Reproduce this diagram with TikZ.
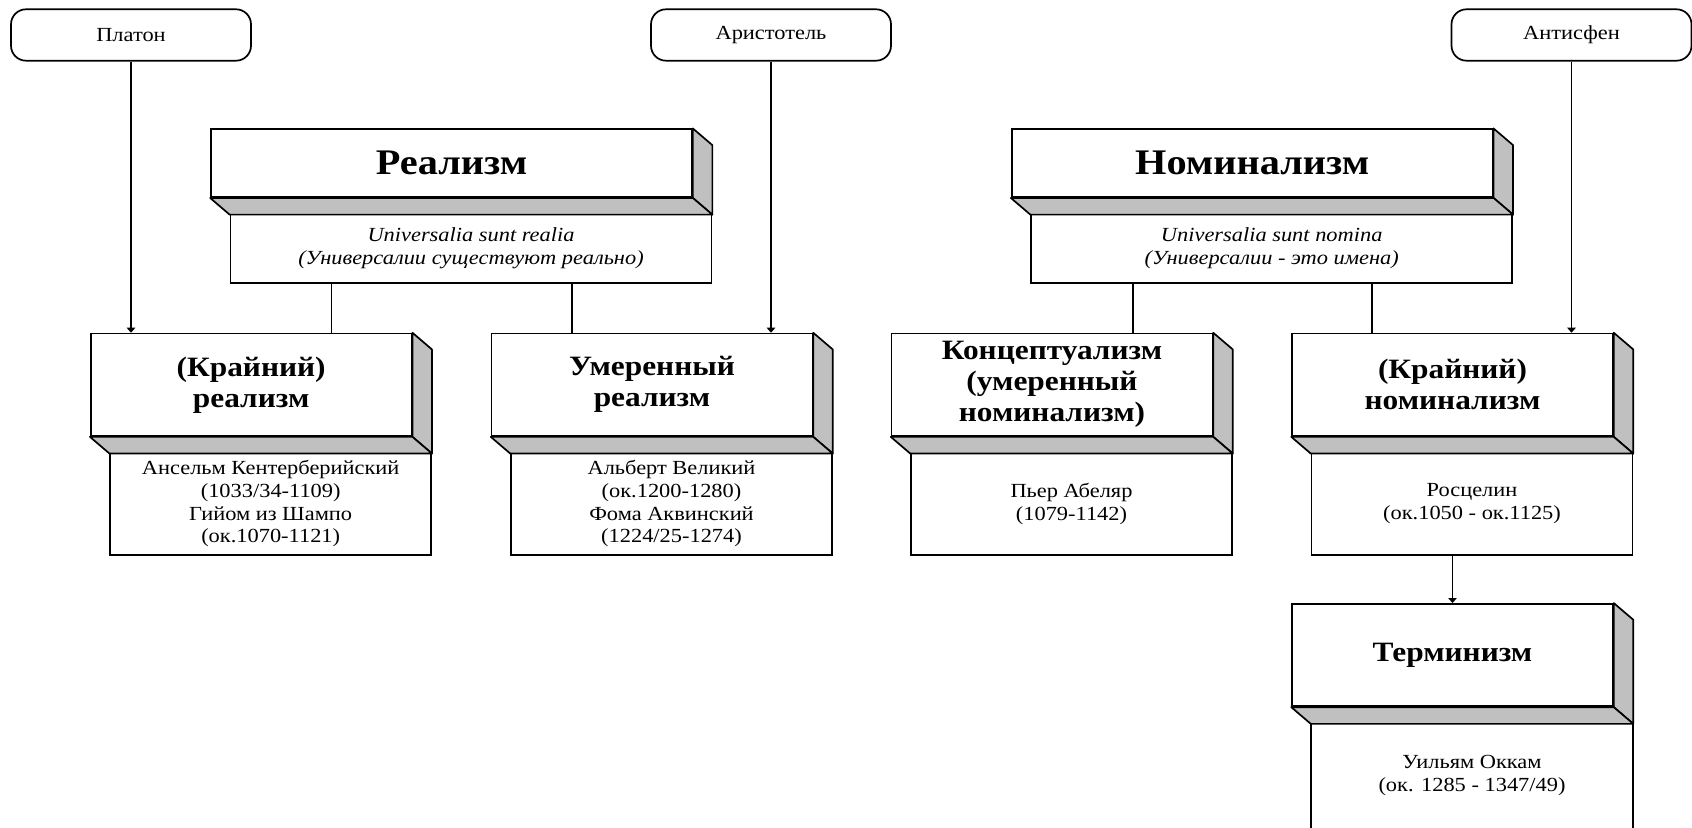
\documentclass[tikz,border=0pt]{standalone}
\usepackage{fontspec}
\setmainfont{Liberation Serif}[FakeStretch=1.12]
\usetikzlibrary{arrows.meta}

\definecolor{sidegray}{RGB}{192,192,192}

\tikzset{
  every node/.style={inner sep=0pt,align=center},
  philbox/.style={draw,rounded corners=7.5pt,minimum width=120pt,minimum height=25.7pt,font=\fontsize{10pt}{11pt}\selectfont},
  mainbox/.style={draw,minimum width=240.5pt,minimum height=33.9pt,font=\bfseries\fontsize{18pt}{20pt}\selectfont},
  mainsub/.style={draw,minimum width=240.5pt,minimum height=34.8pt,font=\itshape\fontsize{10pt}{11.5pt}\selectfont},
  schoolbox/.style={draw,minimum width=160.4pt,minimum height=51.2pt,font=\bfseries\fontsize{14pt}{15.5pt}\selectfont},
  schoolsub/.style={draw,minimum width=160.4pt,minimum height=51.2pt,font=\fontsize{10pt}{11.35pt}\selectfont},
  sideface/.style={draw,fill=sidegray,line join=round},
  arrow/.style={-{Triangle[length=2.5pt,width=4.2pt]}},
}

\begin{document}
\begin{tikzpicture}[x=0.5pt,y=-0.5pt,line width=0.85pt]

\useasboundingbox (0,0) rectangle (1692,828);

%% - Draw philosophers
%% - --------------------------------------

\node[philbox] (platon) at (131,35) {Платон};
\node[philbox] (aristotel) at (771,35) {Аристотель};
\node[philbox] (antisfen) at (1571.5,35) {Антисфен};

%% - Draw main boxes
%% - --------------------------------------

\node[mainbox] (realism) at (451.5,163.2) {Реализм};
\node[mainsub] (realsub) at (471,248.3) {Universalia sunt realia\\(Универсалии существуют реально)};

\node[mainbox] (nominal) at (1252.2,163.2) {Номинализм};
\node[mainsub] (nomsub) at (1271.7,248.3) {Universalia sunt nomina\\(Универсалии - это имена)};

%% - Draw schools
%% - --------------------------------------

\node[schoolbox] (kreal) at (251.2,384.8) {(Крайний)\\реализм};
\node[schoolsub] (krealsub) at (270.7,503.8) {Ансельм Кентерберийский\\(1033/34-1109)\\Гийом из Шампо\\(ок.1070-1121)};

\node[schoolbox] (ureal) at (652,384.8) {Умеренный\\реализм};
\node[schoolsub] (urealsub) at (671.5,503.8) {Альберт Великий\\(ок.1200-1280)\\Фома Аквинский\\(1224/25-1274)};

\node[schoolbox] (konz) at (1052,384.8) {Концептуализм\\(умеренный\\номинализм)};
\node[schoolsub] (konzsub) at (1071.5,503.8) {Пьер Абеляр\\(1079-1142)};

\node[schoolbox] (knom) at (1452.5,384.8) {(Крайний)\\номинализм};
\node[schoolsub] (knomsub) at (1472,503.8) {Росцелин\\(ок.1050 - ок.1125)};

\node[schoolbox] (term) at (1452.5,655.1) {Терминизм};
\node[schoolsub,draw=none,minimum height=52.65pt] (termsub) at (1472,775.4) {Уильям Оккам\\(ок. 1285 - 1347/49)};
\draw (termsub.south west) -- (termsub.north west) -- (termsub.north east) -- (termsub.south east);

%% - Draw grey side faces
%% - --------------------------------------

\filldraw[sideface] (realism.north east) -- ++(19.5,16.7) -- ([shift={(19.5,16.7)}]realism.south east) -- (realism.south east) -- cycle;
\filldraw[sideface] (realism.south west) -- ++(19.5,16.7) -- ([shift={(19.5,16.7)}]realism.south east) -- (realism.south east) -- cycle;
\filldraw[sideface] (nominal.north east) -- ++(19.5,16.7) -- ([shift={(19.5,16.7)}]nominal.south east) -- (nominal.south east) -- cycle;
\filldraw[sideface] (nominal.south west) -- ++(19.5,16.7) -- ([shift={(19.5,16.7)}]nominal.south east) -- (nominal.south east) -- cycle;
\filldraw[sideface] (kreal.north east) -- ++(19.5,16.7) -- ([shift={(19.5,16.7)}]kreal.south east) -- (kreal.south east) -- cycle;
\filldraw[sideface] (kreal.south west) -- ++(19.5,16.7) -- ([shift={(19.5,16.7)}]kreal.south east) -- (kreal.south east) -- cycle;
\filldraw[sideface] (ureal.north east) -- ++(19.5,16.7) -- ([shift={(19.5,16.7)}]ureal.south east) -- (ureal.south east) -- cycle;
\filldraw[sideface] (ureal.south west) -- ++(19.5,16.7) -- ([shift={(19.5,16.7)}]ureal.south east) -- (ureal.south east) -- cycle;
\filldraw[sideface] (konz.north east) -- ++(19.5,16.7) -- ([shift={(19.5,16.7)}]konz.south east) -- (konz.south east) -- cycle;
\filldraw[sideface] (konz.south west) -- ++(19.5,16.7) -- ([shift={(19.5,16.7)}]konz.south east) -- (konz.south east) -- cycle;
\filldraw[sideface] (knom.north east) -- ++(19.5,16.7) -- ([shift={(19.5,16.7)}]knom.south east) -- (knom.south east) -- cycle;
\filldraw[sideface] (knom.south west) -- ++(19.5,16.7) -- ([shift={(19.5,16.7)}]knom.south east) -- (knom.south east) -- cycle;
\filldraw[sideface] (term.north east) -- ++(19.5,16.7) -- ([shift={(19.5,16.7)}]term.south east) -- (term.south east) -- cycle;
\filldraw[sideface] (term.south west) -- ++(19.5,16.7) -- ([shift={(19.5,16.7)}]term.south east) -- (term.south east) -- cycle;

%% - Draw connections
%% - --------------------------------------

\draw[arrow] (platon) -- (platon |- kreal.north);
\draw[arrow] (aristotel) -- (aristotel |- ureal.north);
\draw[arrow] (antisfen) -- (antisfen |- knom.north);
\draw[arrow] (knomsub.south -| term.north) -- (term.north);

\draw (331.5,0 |- realsub.south) -- (331.5,0 |- kreal.north);
\draw (571.7,0 |- realsub.south) -- (571.7,0 |- ureal.north);
\draw (1133,0 |- nomsub.south) -- (1133,0 |- konz.north);
\draw (1372,0 |- nomsub.south) -- (1372,0 |- knom.north);

\end{tikzpicture}
\end{document}
